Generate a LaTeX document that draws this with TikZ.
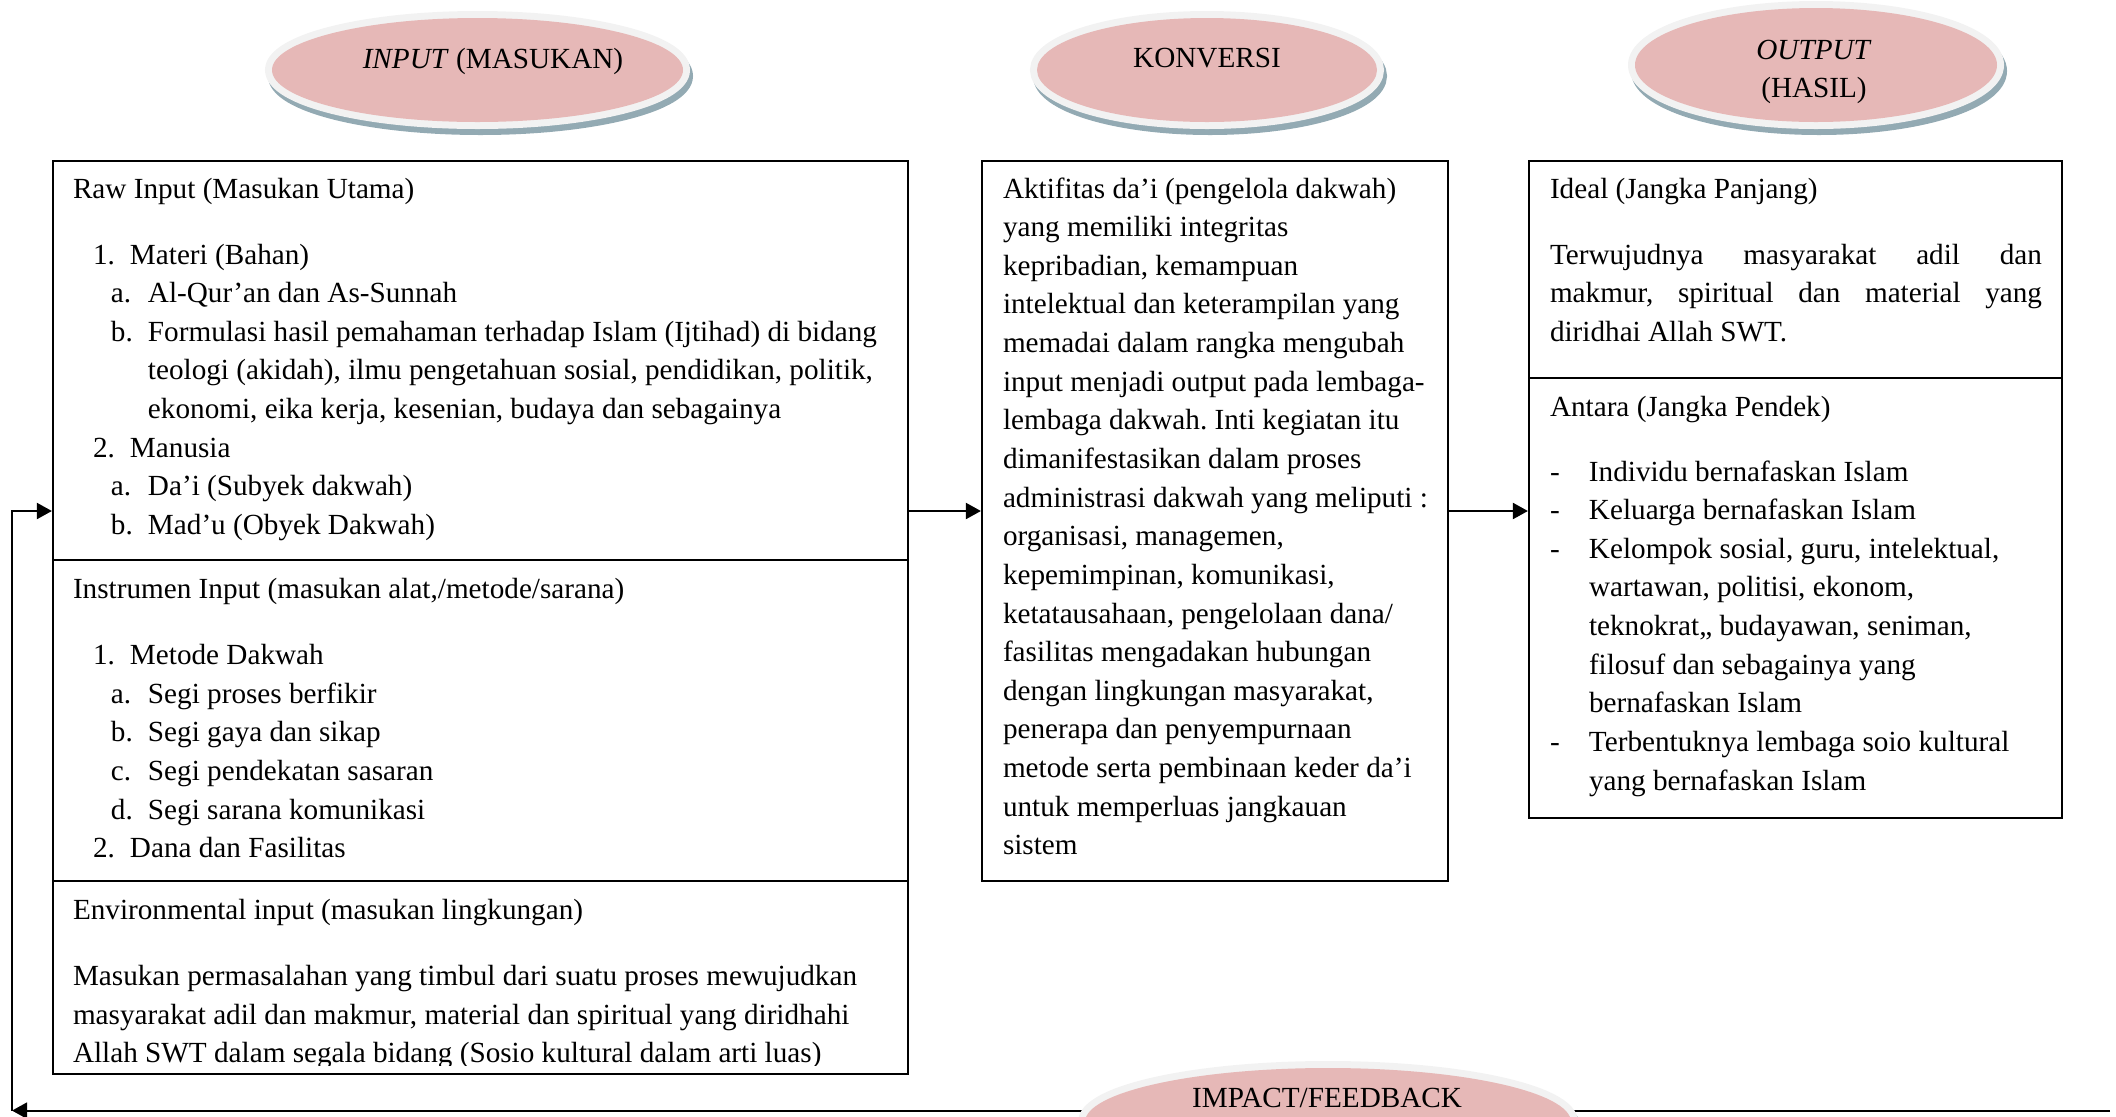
\documentclass[tikz,border=0pt]{standalone}
\usepackage{fontspec}
\setmainfont{Liberation Serif}
\usetikzlibrary{arrows.meta,shapes.geometric,fit}
\newdimen\px \px=0.411pt
\definecolor{pinkc}{HTML}{E6B8B7}
\definecolor{rimc}{HTML}{F2F2F2}
\definecolor{shadc}{HTML}{93AAB3}
\newcommand\lab[3]{\hspace*{#1\px}\makebox[#2\px][l]{#3}}
\frenchspacing
\begin{document}
\begin{tikzpicture}[x=0.411pt,y=-0.411pt,line width=0.9pt,
  box/.style={draw, inner sep=0pt},
  txt/.style={anchor=base west, inner sep=0pt, outer sep=0pt, font=\fontsize{12pt}{15.88pt}\selectfont},
  ctxt/.style={anchor=base, inner sep=0pt, outer sep=0pt, font=\fontsize{12pt}{15.88pt}\selectfont},
  esize/.style 2 args={minimum width=#1*0.411pt, minimum height=#2*0.411pt},
  ell/.style={ellipse, inner sep=0pt, fill=pinkc,
    preaction={fill=shadc, draw=shadc, line width=14*0.411pt, transform canvas={xshift=3*0.411pt, yshift=-6*0.411pt}},
    preaction={draw=rimc, line width=14*0.411pt}},
  arr/.style={-{Triangle[length=6.2pt,width=6.6pt]}}]
\useasboundingbox (0,0) rectangle (2116,1116);

% header ellipses
\node[ell, esize={411}{104}] (einput) at (477.5,70) {};
\node[ctxt] (tinput) at (493,68) {\textit{INPUT} (MASUKAN)};
\node[ell, esize={340}{104}] (ekonv) at (1207,70) {};
\node[ctxt] (tkonv) at (1207,67) {KONVERSI};
\node[ell, esize={362}{114}] (eoutput) at (1816,65) {};
\node[ctxt] (toutput) at (1814,59) {\parbox[t]{200\px}{\centering\textit{OUTPUT}\\(HASIL)}};

% boxes
\node[box, fit={(53,161) (908,560)}] (lb1) {};
\node[box, fit={(53,560) (908,881)}] (lb2) {};
\node[box, fit={(53,881) (908,1074)}] (lb3) {};
\node[box, fit={(982,161) (1448,881)}] (mb) {};
\node[box, fit={(1529,161) (2062,378)}] (rb1) {};
\node[box, fit={(1529,378) (2062,818)}] (rb2) {};

% left box texts
\node[txt] (t1h) at (73,198) {Raw Input (Masukan Utama)};
\node[txt] (t1b) at (73,264) {\parbox[t]{840\px}{\raggedright
\lab{20}{37}{1.}Materi (Bahan)\\
\lab{38}{37}{a.}Al-Qur’an dan As-Sunnah\\
\lab{38}{37}{b.}Formulasi hasil pemahaman terhadap Islam (Ijtihad) di bidang\\
\hspace*{75\px}teologi (akidah), ilmu pengetahuan sosial, pendidikan, politik,\\
\hspace*{75\px}ekonomi, eika kerja, kesenian, budaya dan sebagainya\\
\lab{20}{37}{2.}Manusia\\
\lab{38}{37}{a.}Da’i (Subyek dakwah)\\
\lab{38}{37}{b.}Mad’u (Obyek Dakwah)}};
\node[txt] (t2h) at (73,598.5) {Instrumen Input (masukan alat,/metode/sarana)};
\node[txt] (t2b) at (73,664.5) {\parbox[t]{840\px}{\raggedright
\lab{20}{37}{1.}Metode Dakwah\\
\lab{38}{37}{a.}Segi proses berfikir\\
\lab{38}{37}{b.}Segi gaya dan sikap\\
\lab{38}{37}{c.}Segi pendekatan sasaran\\
\lab{38}{37}{d.}Segi sarana komunikasi\\
\lab{20}{37}{2.}Dana dan Fasilitas}};
\node[txt] (t3h) at (73,919.6) {Environmental input (masukan lingkungan)};
\begin{scope}
\clip (53,881) rectangle (908,1065);
\node[txt] (t3b) at (73,985.7) {\parbox[t]{840\px}{\raggedright
Masukan permasalahan yang timbul dari suatu proses mewujudkan\\
masyarakat adil dan makmur, material dan spiritual yang diridhahi\\
Allah SWT dalam segala bidang (Sosio kultural dalam arti luas)}};
\end{scope}

% middle box text
\node[txt] (tm) at (1003,198) {\parbox[t]{440\px}{\raggedright
Aktifitas da’i (pengelola dakwah)\\
yang memiliki integritas\\
kepribadian, kemampuan\\
intelektual dan keterampilan yang\\
memadai dalam rangka mengubah\\
input menjadi output pada lembaga-\\
lembaga dakwah. Inti kegiatan itu\\
dimanifestasikan dalam proses\\
administrasi dakwah yang meliputi :\\
organisasi, managemen,\\
kepemimpinan, komunikasi,\\
ketatausahaan, pengelolaan dana/\\
fasilitas mengadakan hubungan\\
dengan lingkungan masyarakat,\\
penerapa dan penyempurnaan\\
metode serta pembinaan keder da’i\\
untuk memperluas jangkauan\\
sistem}};

% right box texts
\node[txt] (tr1h) at (1550,198) {Ideal (Jangka Panjang)};
\node[txt] (tr1b) at (1550,264) {\parbox[t]{500\px}{\raggedright
\makebox[492\px][s]{Terwujudnya masyarakat adil dan}\\
\makebox[492\px][s]{makmur, spiritual dan material yang}\\
diridhai Allah SWT.}};
\node[txt] (tr2h) at (1550,416) {Antara (Jangka Pendek)};
\node[txt] (tr2b) at (1550,481) {\parbox[t]{505\px}{\raggedright
\makebox[39\px][l]{-}Individu bernafaskan Islam\\
\makebox[39\px][l]{-}Keluarga bernafaskan Islam\\
\makebox[39\px][l]{-}Kelompok sosial, guru, intelektual,\\
\hspace*{39\px}wartawan, politisi, ekonom,\\
\hspace*{39\px}teknokrat,, budayawan, seniman,\\
\hspace*{39\px}filosuf dan sebagainya yang\\
\hspace*{39\px}bernafaskan Islam\\
\makebox[39\px][l]{-}Terbentuknya lembaga soio kultural\\
\hspace*{39\px}yang bernafaskan Islam}};

% connectors
\coordinate (ay) at (0,511);
\draw[arr] (lb1.east |- ay) -- (mb.west |- ay);
\draw[arr] (mb.east |- ay) -- (rb2.west |- ay);
\coordinate (fbR) at (2110,1110.6);
\coordinate (fbL) at (12,1110.6);
\draw[arr] (fbR) -- (fbL);
\draw[arr] (fbL) |- (lb1.west |- ay);

% impact ellipse
\node[ell, esize={486}{108}] (eimpact) at (1328,1122) {};
\node[ctxt] (timpact) at (1327,1107) {IMPACT/FEEDBACK};
\end{tikzpicture}
\end{document}
